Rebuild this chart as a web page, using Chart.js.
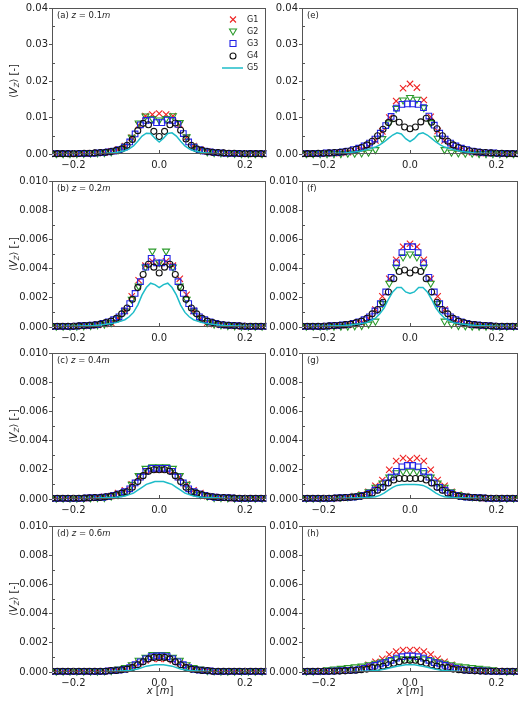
<!DOCTYPE html>
<html>
<head>
<meta charset="utf-8">
<script src="https://cdn.jsdelivr.net/npm/chart.js@4.4.1/dist/chart.umd.min.js"></script>
<style>
  body { margin: 0; background: #fff; width: 525px; height: 701px; position: relative; overflow: hidden; font-family: "DejaVu Sans", sans-serif; color: #222; }
  .lbl { position: absolute; font-size: 8.5px; line-height: 10px; white-space: nowrap; }
  .yt { position: absolute; width: 90px; height: 12px; line-height: 12px; font-size: 10px; text-align: center; transform: rotate(-90deg); white-space: nowrap; }
  .xt { position: absolute; width: 60px; font-size: 10px; line-height: 12px; text-align: center; white-space: nowrap; }
  sub { font-size: 7px; vertical-align: -2px; }
</style>
</head>
<body>
<script>
// grids: G1/G2 coarse, G3 cell-centred, G4 nodal, G5 line
const xA = [-0.24,-0.224,-0.208,-0.192,-0.176,-0.16,-0.144,-0.128,-0.112,-0.096,-0.08,-0.064,-0.048,-0.032,-0.016,0,0.016,0.032,0.048,0.064,0.08,0.096,0.112,0.128,0.144,0.16,0.176,0.192,0.208,0.224,0.24];
const xB = [-0.25,-0.2375,-0.225,-0.2125,-0.2,-0.1875,-0.175,-0.1625,-0.15,-0.1375,-0.125,-0.1125,-0.1,-0.0875,-0.075,-0.0625,-0.05,-0.0375,-0.025,-0.0125,0,0.0125,0.025,0.0375,0.05,0.0625,0.075,0.0875,0.1,0.1125,0.125,0.1375,0.15,0.1625,0.175,0.1875,0.2,0.2125,0.225,0.2375,0.25];
const xD = [-0.24375,-0.23125,-0.21875,-0.20625,-0.19375,-0.18125,-0.16875,-0.15625,-0.14375,-0.13125,-0.11875,-0.10625,-0.09375,-0.08125,-0.06875,-0.05625,-0.04375,-0.03125,-0.01875,-0.00625,0.00625,0.01875,0.03125,0.04375,0.05625,0.06875,0.08125,0.09375,0.10625,0.11875,0.13125,0.14375,0.15625,0.16875,0.18125,0.19375,0.20625,0.21875,0.23125,0.24375];
const xC = [-0.25,-0.2,-0.15,-0.12,-0.1,-0.08,-0.07,-0.06,-0.05,-0.04,-0.03,-0.02,-0.01,0,0.01,0.02,0.03,0.04,0.05,0.06,0.07,0.08,0.1,0.12,0.15,0.2,0.25];

const xTicks = [-0.2, 0, 0.2];
const seriesNames = ['G1', 'G2', 'G3', 'G4', 'G5'];

// (a) z = 0.1m
const a_g1 = [0.0001,0.0001,0.0001,0.0001,0.00015,0.0002,0.0003,0.0004,0.0007,0.0012,0.0022,0.0045,0.0079,0.0104,0.0108,0.0111,0.0108,0.0104,0.0080,0.0046,0.0022,0.0012,0.0007,0.0004,0.0003,0.0002,0.00015,0.0001,0.0001,0.0001,0.0001];
const a_g2 = [0.0001,0.0001,0.0001,0.0001,0.00015,0.0002,0.0003,0.0004,0.0006,0.0011,0.0021,0.0046,0.0085,0.0104,0.0097,0.0093,0.0097,0.0105,0.0086,0.0047,0.0021,0.0011,0.0006,0.0004,0.0003,0.0002,0.00015,0.0001,0.0001,0.0001,0.0001];
const a_g3 = [0.0001,0.0001,0.0001,0.0001,0.00012,0.00015,0.0002,0.0002,0.0003,0.0004,0.0006,0.0008,0.0012,0.0019,0.0033,0.0055,0.0080,0.0092,0.0093,0.0086,0.0086,0.0093,0.0092,0.0081,0.0056,0.0033,0.0019,0.0012,0.0008,0.0006,0.0004,0.0003,0.0002,0.0002,0.00015,0.00012,0.0001,0.0001,0.0001,0.0001];
const a_g4 = [0.0001,0.0001,0.0001,0.0001,0.0001,0.00015,0.0002,0.0002,0.0003,0.0004,0.0005,0.0007,0.0010,0.0014,0.0024,0.0040,0.0064,0.0084,0.0080,0.0062,0.0048,0.0062,0.0080,0.0085,0.0065,0.0041,0.0024,0.0014,0.0010,0.0007,0.0005,0.0004,0.0003,0.0002,0.0002,0.00015,0.0001,0.0001,0.0001,0.0001,0.0001];
const a_g5 = [0.00002,0.00005,0.0001,0.0002,0.0004,0.0009,0.0014,0.0022,0.0035,0.0049,0.0057,0.0056,0.0043,0.0033,0.0043,0.0056,0.0058,0.0049,0.0035,0.0022,0.0014,0.0009,0.0004,0.0002,0.0001,0.00005,0.00002];

// (b) z = 0.2m
const b_g1 = [0.00005,0.00005,0.00005,0.00006,0.00008,0.0001,0.00015,0.0002,0.0003,0.0006,0.0011,0.0021,0.0032,0.0042,0.0045,0.0043,0.0045,0.0042,0.0033,0.0022,0.0011,0.0006,0.0003,0.0002,0.00015,0.0001,0.00008,0.00006,0.00005,0.00005,0.00005];
const b_g2 = [0.00005,0.00005,0.00005,0.00006,0.00008,0.0001,0.00015,0.0002,0.0003,0.0006,0.0011,0.0019,0.0028,0.0041,0.0052,0.0044,0.0052,0.0041,0.0028,0.0019,0.0011,0.0006,0.0003,0.0002,0.00015,0.0001,0.00008,0.00006,0.00005,0.00005,0.00005];
const b_g3 = [0.00005,0.00005,0.00005,0.00005,0.00006,0.00009,0.00011,0.00013,0.00017,0.00025,0.00035,0.0005,0.0007,0.0011,0.0016,0.0023,0.0031,0.0041,0.0047,0.0044,0.0044,0.0047,0.0041,0.0031,0.0023,0.0016,0.0011,0.0007,0.0005,0.00035,0.00025,0.00017,0.00013,0.00011,0.00009,0.00006,0.00005,0.00005,0.00005,0.00005];
const b_g4 = [0.00005,0.00005,0.00005,0.00005,0.00005,0.00008,0.0001,0.00012,0.00015,0.0002,0.0003,0.0004,0.0006,0.0009,0.0013,0.0019,0.0027,0.0036,0.0043,0.0041,0.0037,0.0041,0.0043,0.0036,0.0027,0.0019,0.0013,0.0009,0.0006,0.0004,0.0003,0.0002,0.00015,0.00012,0.0001,0.00008,0.00005,0.00005,0.00005,0.00005,0.00005];
const b_g5 = [0.00002,0.00005,0.0001,0.0002,0.0003,0.0005,0.0007,0.0010,0.0015,0.0022,0.0027,0.0030,0.0029,0.0027,0.0029,0.0030,0.0027,0.0022,0.0015,0.0010,0.0007,0.0005,0.0003,0.0002,0.0001,0.00005,0.00002];

// (c) z = 0.4m
const c_g1 = [0.00005,0.00005,0.00005,0.00005,0.00005,0.00008,0.0001,0.00015,0.0002,0.0004,0.0006,0.0010,0.0015,0.0019,0.0020,0.0020,0.0020,0.0019,0.0015,0.0010,0.0006,0.0004,0.0002,0.00015,0.0001,0.00008,0.00005,0.00005,0.00005,0.00005,0.00005];
const c_g2 = [0.00005,0.00005,0.00005,0.00005,0.00005,0.00008,0.0001,0.0001,0.0002,0.0003,0.0005,0.0010,0.0016,0.0021,0.0022,0.0022,0.0022,0.0021,0.0016,0.0010,0.0005,0.0003,0.0002,0.0001,0.0001,0.00008,0.00005,0.00005,0.00005,0.00005,0.00005];
const c_g3 = [0.00005,0.00005,0.00005,0.00005,0.00005,0.00005,0.00007,0.00009,0.0001,0.00012,0.00017,0.00025,0.00035,0.0005,0.0007,0.0011,0.0015,0.0019,0.0021,0.0021,0.0021,0.0021,0.0019,0.0015,0.0011,0.0007,0.0005,0.00035,0.00025,0.00017,0.00012,0.0001,0.00009,0.00007,0.00005,0.00005,0.00005,0.00005,0.00005,0.00005];
const c_g4 = [0.00005,0.00005,0.00005,0.00005,0.00005,0.00005,0.00006,0.00008,0.0001,0.0001,0.00015,0.0002,0.0003,0.0004,0.0005,0.0008,0.0012,0.0016,0.0019,0.0020,0.0020,0.0020,0.0019,0.0016,0.0012,0.0008,0.0005,0.0004,0.0003,0.0002,0.00015,0.0001,0.0001,0.00008,0.00006,0.00005,0.00005,0.00005,0.00005,0.00005,0.00005];
const c_g5 = [0.00001,0.00002,0.00005,0.0001,0.00012,0.0002,0.0003,0.0004,0.0006,0.0008,0.0010,0.0011,0.0012,0.0012,0.0012,0.0011,0.0010,0.0008,0.0006,0.0004,0.0003,0.0002,0.00012,0.0001,0.00005,0.00002,0.00001];

// (d) z = 0.6m
const d_g1 = [0.00005,0.00005,0.00005,0.00005,0.00005,0.00005,0.00005,0.00005,0.0001,0.00015,0.0002,0.0004,0.0006,0.0008,0.0009,0.0009,0.0009,0.0008,0.0006,0.0004,0.0002,0.00015,0.0001,0.00005,0.00005,0.00005,0.00005,0.00005,0.00005,0.00005,0.00005];
const d_g2 = [0.00005,0.00005,0.00005,0.00005,0.00005,0.00005,0.00005,0.00008,0.0001,0.0002,0.0003,0.0005,0.0008,0.0010,0.0012,0.0012,0.0012,0.0010,0.0008,0.0005,0.0003,0.0002,0.0001,0.00008,0.00005,0.00005,0.00005,0.00005,0.00005,0.00005,0.00005];
const d_g3 = [0.00005,0.00005,0.00005,0.00005,0.00005,0.00005,0.00005,0.00005,0.00005,0.00005,0.00008,0.0001,0.00013,0.00018,0.0003,0.0005,0.0007,0.0009,0.00105,0.0011,0.0011,0.00105,0.0009,0.0007,0.0005,0.0003,0.00018,0.00013,0.0001,0.00008,0.00005,0.00005,0.00005,0.00005,0.00005,0.00005,0.00005,0.00005,0.00005,0.00005];
const d_g4 = [0.00005,0.00005,0.00005,0.00005,0.00005,0.00005,0.00005,0.00005,0.00005,0.00005,0.00005,0.0001,0.0001,0.00015,0.0002,0.0003,0.0005,0.0007,0.0009,0.0010,0.0010,0.0010,0.0009,0.0007,0.0005,0.0003,0.0002,0.00015,0.0001,0.0001,0.00005,0.00005,0.00005,0.00005,0.00005,0.00005,0.00005,0.00005,0.00005,0.00005,0.00005];
const d_g5 = [0.00001,0.00001,0.00002,0.00003,0.00005,0.00008,0.0001,0.00015,0.0002,0.0003,0.0004,0.00045,0.0005,0.0005,0.0005,0.00045,0.0004,0.0003,0.0002,0.00015,0.0001,0.00008,0.00005,0.00003,0.00002,0.00001,0.00001];

// (e)
const e_g1 = [0.0001,0.0001,0.0001,0.0002,0.0002,0.0003,0.0005,0.0008,0.0013,0.0022,0.0037,0.0062,0.0100,0.0145,0.0180,0.0192,0.0182,0.0148,0.0102,0.0063,0.0037,0.0022,0.0013,0.0008,0.0005,0.0003,0.0002,0.0002,0.0001,0.0001,0.0001];
const e_g2 = [0.0001,0.0001,0.0001,0.0001,0.0001,0.0001,0.0002,0.0002,0.0003,0.0005,0.0012,0.0042,0.0085,0.0125,0.0148,0.0155,0.0150,0.0127,0.0086,0.0043,0.0012,0.0005,0.0003,0.0002,0.0002,0.0001,0.0001,0.0001,0.0001,0.0001,0.0001];
const e_g3 = [0.0001,0.0001,0.0002,0.0002,0.0003,0.0003,0.0004,0.0006,0.0008,0.0012,0.0016,0.0022,0.0030,0.0041,0.0057,0.0078,0.0103,0.0126,0.0136,0.0137,0.0137,0.0136,0.0127,0.0104,0.0079,0.0057,0.0041,0.0030,0.0022,0.0016,0.0012,0.0008,0.0006,0.0004,0.0003,0.0003,0.0002,0.0002,0.0001,0.0001];
const e_g4 = [0.0001,0.0001,0.0001,0.0002,0.0002,0.0003,0.0004,0.0005,0.0007,0.0009,0.0013,0.0018,0.0025,0.0035,0.0050,0.0068,0.0086,0.0097,0.0087,0.0074,0.0069,0.0074,0.0088,0.0098,0.0087,0.0069,0.0050,0.0035,0.0025,0.0018,0.0013,0.0009,0.0007,0.0005,0.0004,0.0003,0.0002,0.0002,0.0001,0.0001,0.0001];
const e_g5 = [0.00003,0.0001,0.0003,0.0007,0.0012,0.0019,0.0025,0.0033,0.0043,0.0052,0.0058,0.0055,0.0042,0.0034,0.0042,0.0055,0.0058,0.0052,0.0043,0.0033,0.0025,0.0019,0.0012,0.0007,0.0003,0.0001,0.00003];

// (f)
const f_g1 = [0.00005,0.00005,0.00005,0.00006,0.00008,0.0001,0.00015,0.0002,0.0003,0.0006,0.0012,0.0021,0.0033,0.0046,0.0055,0.0057,0.0055,0.0046,0.0033,0.0021,0.0012,0.0006,0.0003,0.0002,0.00015,0.0001,0.00008,0.00006,0.00005,0.00005,0.00005];
const f_g2 = [0.00005,0.00005,0.00005,0.00005,0.00005,0.00005,0.00006,0.00008,0.0001,0.0002,0.0004,0.0016,0.0030,0.0041,0.0048,0.0050,0.0048,0.0041,0.0030,0.0016,0.0004,0.0002,0.0001,0.00008,0.00006,0.00005,0.00005,0.00005,0.00005,0.00005,0.00005];
const f_g3 = [0.00005,0.00005,0.00005,0.00005,0.00006,0.00009,0.00011,0.00014,0.00018,0.00025,0.00035,0.0005,0.0007,0.0011,0.0016,0.0024,0.0034,0.0044,0.0051,0.0055,0.0055,0.0051,0.0044,0.0034,0.0024,0.0016,0.0011,0.0007,0.0005,0.00035,0.00025,0.00018,0.00014,0.00011,0.00009,0.00006,0.00005,0.00005,0.00005,0.00005];
const f_g4 = [0.00005,0.00005,0.00005,0.00005,0.00005,0.00008,0.0001,0.00012,0.00016,0.0002,0.0003,0.0004,0.0006,0.0009,0.0012,0.0017,0.0024,0.0033,0.0038,0.0039,0.0037,0.0039,0.0038,0.0033,0.0024,0.0017,0.0012,0.0009,0.0006,0.0004,0.0003,0.0002,0.00016,0.00012,0.0001,0.00008,0.00005,0.00005,0.00005,0.00005,0.00005];
const f_g5 = [0.00002,0.00005,0.0001,0.0002,0.0003,0.0006,0.0009,0.0013,0.0019,0.0024,0.0027,0.0027,0.0024,0.0023,0.0024,0.0027,0.0027,0.0024,0.0019,0.0013,0.0009,0.0006,0.0003,0.0002,0.0001,0.00005,0.00002];

// (g)
const g_g1 = [0.00005,0.00005,0.00005,0.00005,0.00005,0.00008,0.0001,0.0002,0.0003,0.0005,0.0009,0.0013,0.0020,0.0026,0.0028,0.0027,0.0028,0.0026,0.0020,0.0013,0.0009,0.0005,0.0003,0.0002,0.0001,0.00008,0.00005,0.00005,0.00005,0.00005,0.00005];
const g_g2 = [0.00005,0.00005,0.00005,0.00008,0.0001,0.00012,0.00015,0.0002,0.0003,0.0005,0.0008,0.0011,0.0015,0.0018,0.0019,0.0019,0.0019,0.0018,0.0015,0.0011,0.0008,0.0005,0.0003,0.0002,0.00015,0.00012,0.0001,0.00008,0.00005,0.00005,0.00005];
const g_g3 = [0.00005,0.00005,0.00005,0.00005,0.00005,0.00005,0.00007,0.00009,0.00011,0.00013,0.00017,0.00025,0.0004,0.0006,0.0008,0.0011,0.0015,0.0019,0.0022,0.0023,0.0023,0.0022,0.0019,0.0015,0.0011,0.0008,0.0006,0.0004,0.00025,0.00017,0.00013,0.00011,0.00009,0.00007,0.00005,0.00005,0.00005,0.00005,0.00005,0.00005];
const g_g4 = [0.00005,0.00005,0.00005,0.00005,0.00005,0.00005,0.00006,0.00008,0.0001,0.00012,0.00015,0.0002,0.0003,0.0004,0.0006,0.0008,0.0011,0.0013,0.0014,0.0014,0.0014,0.0014,0.0014,0.0013,0.0011,0.0008,0.0006,0.0004,0.0003,0.0002,0.00015,0.00012,0.0001,0.00008,0.00006,0.00005,0.00005,0.00005,0.00005,0.00005,0.00005];
const g_g5 = [0.00001,0.00002,0.00005,0.00008,0.0001,0.00015,0.00025,0.0004,0.0006,0.0008,0.00093,0.00098,0.0010,0.0010,0.0010,0.00098,0.00093,0.0008,0.0006,0.0004,0.00025,0.00015,0.0001,0.00008,0.00005,0.00002,0.00001];

// (h)
const h_g1 = [0.00005,0.00005,0.00006,0.00008,0.0001,0.00012,0.00015,0.0002,0.0003,0.0005,0.0007,0.0009,0.0012,0.0014,0.0015,0.0015,0.0015,0.0014,0.0012,0.0009,0.0007,0.0005,0.0003,0.0002,0.00015,0.00012,0.0001,0.00008,0.00006,0.00005,0.00005];
const h_g2 = [0.00005,0.00006,0.0001,0.00015,0.0002,0.00025,0.0003,0.00035,0.0004,0.0005,0.0006,0.0007,0.0008,0.0009,0.0009,0.0009,0.0009,0.0009,0.0008,0.0007,0.0006,0.0005,0.0004,0.00035,0.0003,0.00025,0.0002,0.00015,0.0001,0.00006,0.00005];
const h_g3 = [0.00005,0.00005,0.00005,0.00005,0.00005,0.00006,0.00007,0.00009,0.00011,0.00013,0.00017,0.00025,0.00035,0.00045,0.00055,0.00065,0.0008,0.00095,0.00105,0.0011,0.0011,0.00105,0.00095,0.0008,0.00065,0.00055,0.00045,0.00035,0.00025,0.00017,0.00013,0.00011,0.00009,0.00007,0.00006,0.00005,0.00005,0.00005,0.00005,0.00005];
const h_g4 = [0.00005,0.00005,0.00005,0.00005,0.00005,0.00005,0.00005,0.00006,0.00008,0.0001,0.00012,0.00015,0.0002,0.0003,0.0003,0.0004,0.0005,0.0006,0.0007,0.0008,0.0008,0.0008,0.0007,0.0006,0.0005,0.0004,0.0003,0.0003,0.0002,0.00015,0.00012,0.0001,0.00008,0.00006,0.00005,0.00005,0.00005,0.00005,0.00005,0.00005,0.00005];
const h_g5 = [0.00001,0.00001,0.00002,0.00004,0.00006,0.0001,0.00013,0.00018,0.00025,0.00033,0.0004,0.00045,0.0005,0.0005,0.0005,0.00045,0.0004,0.00033,0.00025,0.00018,0.00013,0.0001,0.00006,0.00004,0.00002,0.00001,0.00001];

const panels = [
  {col: 0, row: 0, ymax: 0.04, step: 0.01, dec: 2, label: '(a) <i>z</i> = 0.1<i>m</i>', g: [a_g1, a_g2, a_g3, a_g4, a_g5], legend: true},
  {col: 0, row: 1, ymax: 0.01, step: 0.002, dec: 3, label: '(b) <i>z</i> = 0.2<i>m</i>', g: [b_g1, b_g2, b_g3, b_g4, b_g5]},
  {col: 0, row: 2, ymax: 0.01, step: 0.002, dec: 3, label: '(c) <i>z</i> = 0.4<i>m</i>', g: [c_g1, c_g2, c_g3, c_g4, c_g5]},
  {col: 0, row: 3, ymax: 0.01, step: 0.002, dec: 3, label: '(d) <i>z</i> = 0.6<i>m</i>', g: [d_g1, d_g2, d_g3, d_g4, d_g5]},
  {col: 1, row: 0, ymax: 0.04, step: 0.01, dec: 2, label: '(e)', g: [e_g1, e_g2, e_g3, e_g4, e_g5]},
  {col: 1, row: 1, ymax: 0.01, step: 0.002, dec: 3, label: '(f)', g: [f_g1, f_g2, f_g3, f_g4, f_g5]},
  {col: 1, row: 2, ymax: 0.01, step: 0.002, dec: 3, label: '(g)', g: [g_g1, g_g2, g_g3, g_g4, g_g5]},
  {col: 1, row: 3, ymax: 0.01, step: 0.002, dec: 3, label: '(h)', g: [h_g1, h_g2, h_g3, h_g4, h_g5]},
];

const rowTop = [8, 181, 353, 526];
const plotH = 146;
const colors = ['#ee2222', '#2a9a2a', '#2222e6', '#111111', '#1ebcc8'];

Chart.defaults.font.family = '"DejaVu Sans", sans-serif';
Chart.defaults.color = '#222';

// frame, inside ticks and the legend of panel (a)
const frame = {
  id: 'frame',
  afterDatasetsDraw(chart, args, opts) {
    const ctx = chart.ctx;
    const a = chart.chartArea;
    const x = chart.scales.x, y = chart.scales.y;
    ctx.save();
    ctx.strokeStyle = '#555';
    ctx.lineWidth = 1;
    ctx.strokeRect(Math.round(a.left) + 0.5, Math.round(a.top) + 0.5, Math.round(a.right - a.left) - 1, Math.round(a.bottom - a.top) - 1);
    ctx.beginPath();
    xTicks.forEach(v => {
      const px = Math.round(x.getPixelForValue(v)) + 0.5;
      ctx.moveTo(px, a.bottom);
      ctx.lineTo(px, a.bottom - 4);
    });
    for (let k = 0; k < 4; k++) {
      const py = Math.round(y.getPixelForValue((k + 0.5) * opts.step)) + 0.5;
      ctx.moveTo(a.left, py);
      ctx.lineTo(a.left + 3, py);
    }
    ctx.stroke();

    if (opts.legend) {
      const mx = 233, tx = 247;
      const ys = [19.5, 31.5, 43.5, 56, 68];
      ctx.font = '8px "DejaVu Sans"';
      ctx.textBaseline = 'middle';
      ctx.lineWidth = 1.1;
      ys.forEach((yy, i) => {
        ctx.strokeStyle = colors[i];
        ctx.beginPath();
        if (i === 0) {
          ctx.moveTo(mx - 3, yy - 3); ctx.lineTo(mx + 3, yy + 3);
          ctx.moveTo(mx - 3, yy + 3); ctx.lineTo(mx + 3, yy - 3);
        } else if (i === 1) {
          ctx.moveTo(mx - 3.5, yy - 2.5); ctx.lineTo(mx + 3.5, yy - 2.5); ctx.lineTo(mx, yy + 3.5); ctx.closePath();
        } else if (i === 2) {
          ctx.rect(mx - 3, yy - 3, 6, 6);
        } else if (i === 3) {
          ctx.arc(mx, yy, 3, 0, Math.PI * 2);
        } else {
          ctx.lineWidth = 1.5;
          ctx.moveTo(mx - 11, yy); ctx.lineTo(mx + 10, yy);
        }
        ctx.stroke();
        ctx.fillStyle = '#222';
        ctx.fillText(seriesNames[i], tx, yy);
      });
    }
    ctx.restore();
  }
};

function pts(xs, ys) {
  return xs.map((v, i) => ({x: v, y: ys[i]}));
}

function fmtX(v) {
  if (Math.abs(v) < 1e-9) return '0.0';
  return (v < 0 ? '\u2212' : '') + Math.abs(v).toFixed(1);
}

function makePanel(p) {
  const left = p.col === 0 ? 0 : 255;
  const w = p.col === 0 ? 272 : 270;
  const h = 174;
  const top = rowTop[p.row] - 8;
  const cv = document.createElement('canvas');
  cv.width = w;
  cv.height = h;
  cv.style.cssText = `position:absolute;left:${left}px;top:${top}px;width:${w}px;height:${h}px`;
  document.body.appendChild(cv);

  const yw = p.col === 0 ? 52 : 47;
  const padR = p.col === 0 ? 4 : 7;
  // markers clipped at the sides only, they may hang over the bottom axis
  const mk = {showLine: false, pointBorderWidth: 1.1, pointBackgroundColor: 'rgba(0,0,0,0)', clip: {left: 0, right: 0, top: 8, bottom: 5}};

  new Chart(cv, {
    type: 'scatter',
    data: {
      datasets: [
        {...mk, label: 'G1', data: pts(xA, p.g[0]), pointStyle: 'crossRot', pointRadius: 4.5, borderColor: colors[0], order: 5},
        {...mk, label: 'G2', data: pts(xA, p.g[1]), pointStyle: 'triangle', pointRotation: 180, pointRadius: 4, borderColor: colors[1], order: 4},
        {...mk, label: 'G3', data: pts(xD, p.g[2]), pointStyle: 'rect', pointRadius: 4, borderColor: colors[2], order: 3},
        {...mk, label: 'G4', data: pts(xB, p.g[3]), pointStyle: 'circle', pointRadius: 3, borderColor: colors[3], order: 2},
        {label: 'G5', data: pts(xC, p.g[4]), showLine: true, pointRadius: 0, borderWidth: 1.5, borderColor: colors[4], tension: 0, order: 1}
      ]
    },
    options: {
      responsive: false,
      animation: false,
      layout: {padding: {top: 8, right: padR, left: 0, bottom: 0}},
      plugins: {legend: {display: false}, tooltip: {enabled: false}, frame: {step: p.step, legend: !!p.legend}},
      scales: {
        x: {
          type: 'linear', min: -0.25, max: 0.25,
          afterBuildTicks: s => { s.ticks = xTicks.map(v => ({value: v})); },
          afterFit: s => { s.height = 20; },
          grid: {display: false, drawTicks: false},
          border: {display: false},
          ticks: {padding: 5, color: '#222', font: {size: 10}, maxRotation: 0, callback: v => fmtX(v)}
        },
        y: {
          min: 0, max: p.ymax,
          afterFit: s => { s.width = yw; },
          grid: {drawOnChartArea: false, drawTicks: true, tickLength: 3, color: '#555'},
          border: {display: false},
          ticks: {stepSize: p.step, padding: 1, color: '#222', font: {size: 10}, callback: v => v.toFixed(p.dec)}
        }
      }
    },
    plugins: [frame]
  });
}

panels.forEach(makePanel);

// text overlays
panels.forEach(p => {
  const plotLeft = p.col === 0 ? 52 : 302;
  const d = document.createElement('div');
  d.className = 'lbl';
  d.style.left = (plotLeft + 5) + 'px';
  d.style.top = (rowTop[p.row] + 2) + 'px';
  d.innerHTML = p.label;
  document.body.appendChild(d);
  if (p.col === 0) {
    const t = document.createElement('div');
    t.className = 'yt';
    t.style.left = (14 - 45) + 'px';
    t.style.top = (rowTop[p.row] + plotH / 2 - 6) + 'px';
    t.innerHTML = '\u27e8<i>V</i><sub><i>Z</i></sub>\u27e9 [-]';
    document.body.appendChild(t);
  }
  if (p.row === 3) {
    const t = document.createElement('div');
    t.className = 'xt';
    t.style.left = ((p.col === 0 ? 160 : 410) - 30) + 'px';
    t.style.top = '685px';
    t.innerHTML = '<i>x</i> [<i>m</i>]';
    document.body.appendChild(t);
  }
});
</script>
</body>
</html>
